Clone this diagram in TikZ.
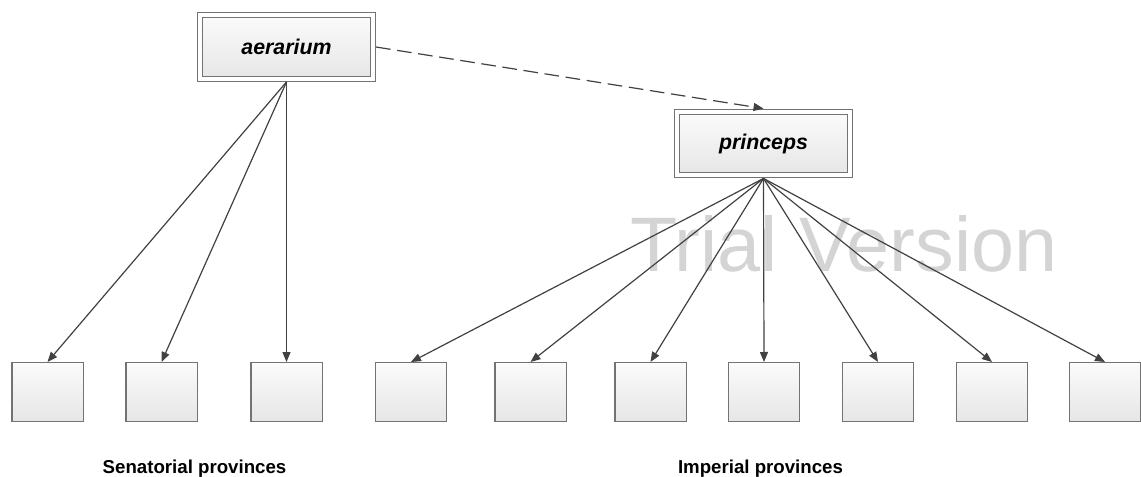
\documentclass[tikz,border=0pt]{standalone}
\usepackage{fontspec}
\setmainfont{Liberation Sans}
\usepackage{tikz}
\usetikzlibrary{arrows.meta}
\usepackage{xcolor}
\definecolor{framegray}{RGB}{115,115,115}
\definecolor{arrowgray}{RGB}{65,65,65}
\definecolor{boxtop}{RGB}{251,251,251}
\definecolor{boxbottom}{RGB}{230,230,230}
\definecolor{markgray}{RGB}{212,212,212}
\tikzset{
  province/.style={rectangle, draw=framegray, line width=1.1pt, top color=boxtop, bottom color=boxbottom,
                   minimum width=53.6pt, minimum height=43.9pt, inner sep=0pt},
  headbox/.style={rectangle, draw=framegray, line width=0.9pt, double=white, double distance=2.9pt,
                  top color=boxtop, bottom color=boxbottom, minimum width=129.5pt, minimum height=47.7pt,
                  inner sep=0pt, outer sep=2.35pt, font=\fontsize{16}{19}\selectfont\bfseries\itshape},
  grouplabel/.style={anchor=base, font=\fontsize{14}{16}\selectfont\bfseries},
  watermark/.style={text=markgray, font=\fontsize{58}{60}\selectfont},
  arrow/.style={-{Triangle[length=7.5pt,width=6pt]}, line width=0.9pt, arrowgray},
  arrowdash/.style={arrow, dash pattern=on 11pt off 5pt},
}
\begin{document}
\begin{tikzpicture}[x=0.75pt, y=-0.75pt]
\useasboundingbox (0,0) rectangle (1141,477);
\node[watermark] (trial) at (844,243.5) {Trial Version};
\node[headbox] (aerarium) at (286.5,47) {aerarium};
\node[headbox] (princeps) at (763.5,143.5) {princeps};
\foreach \name/\x in {sen1/47.5, sen2/161.5, sen3/286.5}
  \node[province] (\name) at (\x,392) {};
\foreach \name/\x in {imp1/411, imp2/530.5, imp3/650.5, imp4/764, imp5/878, imp6/992, imp7/1105}
  \node[province] (\name) at (\x,392) {};
\node[grouplabel] (senlabel) at (194.5,473.5) {Senatorial provinces};
\node[grouplabel] (implabel) at (760.5,473.5) {Imperial provinces};
\foreach \b in {sen1, sen2, sen3}
  \draw[arrow] (aerarium.south) -- (\b.north);
\foreach \b in {imp1, imp2, imp3, imp4, imp5, imp6, imp7}
  \draw[arrow] (princeps.south) -- (\b.north);
\draw[arrowdash] (aerarium.east) -- (princeps.north);
\end{tikzpicture}
\end{document}
